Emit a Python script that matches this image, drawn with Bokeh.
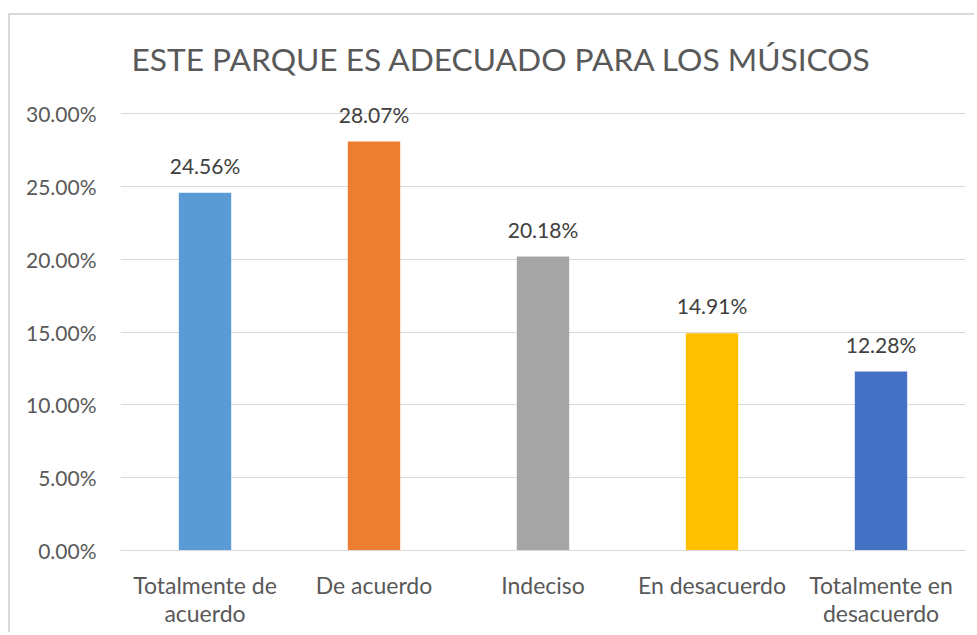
from bokeh.plotting import figure
from bokeh.models import FixedTicker, PrintfTickFormatter, ColumnDataSource, Range1d, Label, LabelSet
from bokeh.core.properties import value
from bokeh.embed import file_html
from bokeh.resources import INLINE

categories = ["Totalmente de\nacuerdo", "De acuerdo", "Indeciso", "En desacuerdo", "Totalmente en\ndesacuerdo"]
values = [24.56, 28.07, 20.18, 14.91, 12.28]
colors = ["#5B9BD5", "#ED7D31", "#A5A5A5", "#FFC000", "#4472C4"]
y_ticks = [0, 5, 10, 15, 20, 25, 30]
title_text = "ESTE PARQUE ES ADECUADO PARA LOS MÚSICOS"

FONT = "Lato"

# layout (pixels)
H = 619
BOTTOM = 84
AXIS_PX = 437          # pixel height of the 0..30% span
frame_px = H - BOTTOM  # frame spans whole height above the x axis
y_end = y_ticks[-1] * frame_px / AXIS_PX

src = ColumnDataSource(dict(
    cat=categories, val=values, color=colors,
    lab=[f"{v:.2f}%" for v in values],
))

p = figure(
    x_range=categories, y_range=Range1d(y_ticks[0], y_end),
    width=966, height=H,
    output_backend="svg", toolbar_location=None,
    min_border_left=110, min_border_right=11, min_border_top=0, min_border_bottom=BOTTOM,
)
p.styles = {"margin-left": "8px", "margin-top": "13px",
            "border-top": "2px solid #d9d9d9", "border-left": "2px solid #d9d9d9"}
p.outline_line_color = None
p.background_fill_color = "white"
p.border_fill_color = "white"

title = Label(x=0, y=y_ticks[-1], x_offset=11, y_offset=55, text=title_text,
              text_font=FONT, text_font_size="31.7px", text_color="#595959",
              text_align="left", text_baseline="alphabetic")
p.add_layout(title)

p.vbar(x="cat", top="val", width=0.31, color="color", source=src, line_color=None)
labels = LabelSet(x="cat", y="val", text="lab", source=src, text_align="center",
                  text_baseline="alphabetic", y_offset=19, text_font_size=value("21px"),
                  text_color=value("#404040"), text_font=value(FONT))
p.add_layout(labels)

p.yaxis.ticker = FixedTicker(ticks=y_ticks)
p.yaxis.formatter = PrintfTickFormatter(format="%.2f%%")
p.yaxis.axis_line_color = None
p.yaxis.major_tick_line_color = None
p.yaxis.minor_tick_line_color = None
p.yaxis.major_label_standoff = 18
p.yaxis.major_label_text_font = FONT
p.yaxis.major_label_text_font_size = "21px"
p.yaxis.major_label_text_color = "#595959"

p.xaxis.axis_line_color = "#D9D9D9"
p.xaxis.major_tick_line_color = None
p.xaxis.minor_tick_line_color = None
p.xaxis.major_label_standoff = 14
p.xaxis.major_label_text_font = FONT
p.xaxis.major_label_text_font_size = "23px"
p.xaxis.major_label_text_color = "#595959"
p.xaxis.major_label_text_line_height = 1.0

p.xgrid.grid_line_color = None
p.ygrid.grid_line_color = "#D9D9D9"
p.ygrid.grid_line_width = 1

open("out.html", "w").write(file_html(p, INLINE))
